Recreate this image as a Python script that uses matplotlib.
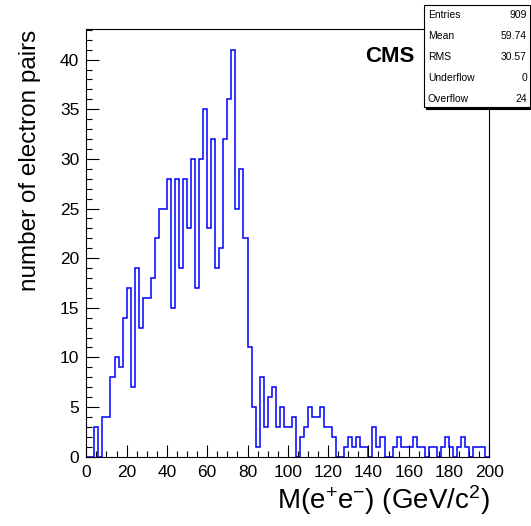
import matplotlib
matplotlib.use("Agg")
import matplotlib.pyplot as plt
import numpy as np
from matplotlib.patches import Rectangle

# histogram: 100 bins of 2 GeV between 0 and 200, counts
bin_edges = np.linspace(0, 200, 101)
counts = [
    0, 0, 3, 0, 4, 4, 8, 10, 9, 14,        # 0-20
    17, 7, 19, 13, 16, 16, 18, 22, 25, 25,  # 20-40
    28, 15, 28, 19, 28, 23, 30, 17, 30, 35, # 40-60
    23, 32, 19, 21, 32, 36, 41, 25, 29, 22, # 60-80
    11, 5, 1, 8, 3, 6, 7, 3, 5, 3,          # 80-100
    3, 4, 0, 2, 3, 5, 4, 4, 5, 3,           # 100-120
    3, 2, 0, 0, 1, 2, 1, 2, 1, 1,           # 120-140
    0, 3, 1, 2, 0, 0, 1, 2, 1, 1,           # 140-160
    1, 2, 1, 1, 0, 1, 1, 0, 1, 2,           # 160-180
    1, 0, 1, 2, 1, 0, 1, 1, 1, 0,           # 180-200
]

stat_names = ["Entries", "Mean", "RMS", "Underflow", "Overflow"]
stat_values = ["909", "59.74", "30.57", "0", "24"]

plt.rcParams["font.family"] = ["Liberation Sans", "DejaVu Sans"]
plt.rcParams["mathtext.default"] = "regular"

W, H = 531, 526
fig = plt.figure(figsize=(W / 100, H / 100), dpi=100)
ax = fig.add_axes([86.3 / W, 1 - 456.7 / H, 403.0 / W, 427.4 / H])

ax.stairs(counts, bin_edges, color="#0000ff", lw=1.1, baseline=0)

ax.set_xlim(0, 200)
ax.set_ylim(0, 43.05)
ax.set_xticks(np.arange(0, 201, 20))
ax.set_xticks(np.arange(0, 201, 5), minor=True)
ax.set_yticks(np.arange(0, 41, 5))
ax.set_yticks(np.arange(0, 44, 1), minor=True)
ax.tick_params(which="both", direction="in", top=False, right=False,
               labelsize=12.5, width=0.8, color="black")
ax.tick_params(which="major", length=9)
ax.tick_params(which="minor", length=4.5)
ax.tick_params(axis="x", pad=6)
ax.tick_params(axis="y", pad=5)
for s in ax.spines.values():
    s.set_linewidth(0.8)

ax.set_xlabel("M(e$^{+}$e$^{-}$) (GeV/c$^{2}$)", fontsize=20, loc="right")
ax.xaxis.set_label_coords(1.0, -0.062)
ax.set_ylabel("number of electron pairs", fontsize=17.5, loc="top")
ax.yaxis.set_label_coords(-0.112, 1.0)

ax.text(389.5 / W, 1 - 56.5 / H, "CMS", transform=fig.transFigure,
        fontsize=16, fontweight="bold", ha="center", va="center")

# stats box with its shadow
bx0, by0, bx1, by1 = 424.3, 4.5, 530, 107.3
fig.patches.append(Rectangle(((bx0 + 2) / W, 1 - (by1 + 2) / H), (bx1 - bx0) / W,
                             (by1 - by0) / H, transform=fig.transFigure,
                             facecolor="black", edgecolor="black", lw=0.8, zorder=5))
fig.patches.append(Rectangle((bx0 / W, 1 - by1 / H), (bx1 - bx0) / W,
                             (by1 - by0) / H, transform=fig.transFigure,
                             facecolor="white", edgecolor="black", lw=0.8, zorder=6))
for i, (name, val) in enumerate(zip(stat_names, stat_values)):
    yy = 1 - (15 + 21 * i) / H
    fig.text(428 / W, yy, name, fontsize=7.5, ha="left", va="center", zorder=7)
    fig.text(527 / W, yy, val, fontsize=7.5, ha="right", va="center", zorder=7)

fig.savefig("out.png", dpi=100)
